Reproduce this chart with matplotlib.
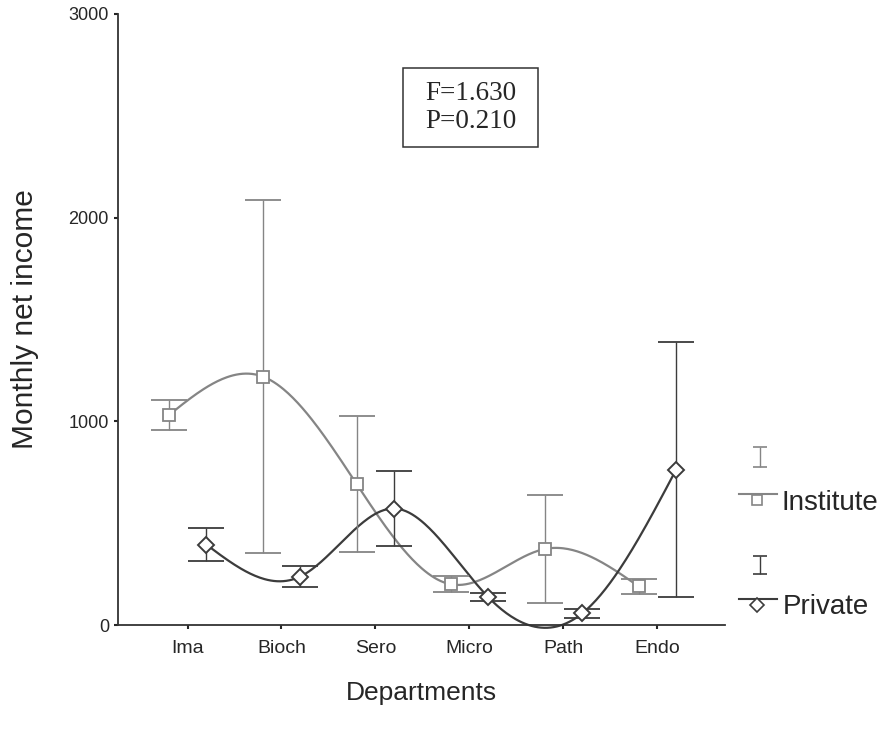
import numpy as np
import matplotlib
matplotlib.use('Agg')
import matplotlib.pyplot as plt
from matplotlib.patches import Rectangle

plt.rcParams['font.family'] = ['Liberation Sans', 'DejaVu Sans']

# ------------------------------------------------------------------
#  data
# ------------------------------------------------------------------
departments = ['Ima', 'Bioch', 'Sero', 'Micro', 'Path', 'Endo']

institute_mean = [1030, 1220, 692, 200, 373, 190]
institute_err  = [75, 866, 334, 40, 265, 38]

private_mean = [395, 238, 572, 137, 57, 763]
private_err  = [80, 52, 184, 20, 23, 626]

F_STAT = 1.630
P_VAL  = 0.210

C_INST = '#858585'
C_PRIV = '#3c3c3c'
C_TEXT = '#262626'


def natural_spline(x, y, n=300):
    """Natural cubic spline through (x, y) - only used to draw the smooth line."""
    x = np.asarray(x, float)
    y = np.asarray(y, float)
    k = len(x)
    h = np.diff(x)
    A = np.zeros((k, k))
    b = np.zeros(k)
    A[0, 0] = A[-1, -1] = 1
    for i in range(1, k - 1):
        A[i, i - 1] = h[i - 1]
        A[i, i] = 2 * (h[i - 1] + h[i])
        A[i, i + 1] = h[i]
        b[i] = 3 * ((y[i + 1] - y[i]) / h[i] - (y[i] - y[i - 1]) / h[i - 1])
    c = np.linalg.solve(A, b)
    bb = (y[1:] - y[:-1]) / h - h * (2 * c[:-1] + c[1:]) / 3
    d = (c[1:] - c[:-1]) / (3 * h)
    xs = np.linspace(x[0], x[-1], n)
    idx = np.clip(np.searchsorted(x, xs) - 1, 0, k - 2)
    dx = xs - x[idx]
    ys = y[idx] + bb[idx] * dx + c[idx] * dx ** 2 + d[idx] * dx ** 3
    return xs, ys


pos = np.arange(len(departments))
x_inst = pos - 0.2
x_priv = pos + 0.2

fig = plt.figure(figsize=(8.84, 7.36), dpi=100)
ax = fig.add_axes([118 / 884, 1 - 625 / 736, (725 - 118) / 884, (625 - 14) / 736])

# smooth lines (allowed to dip just under the axis, as in the original)
xs, ys = natural_spline(x_inst, institute_mean)
ax.plot(xs, ys, color=C_INST, lw=1.6, zorder=2, clip_on=False)
xs, ys = natural_spline(x_priv, private_mean)
ax.plot(xs, ys, color=C_PRIV, lw=1.6, zorder=2, clip_on=False)

# error bars + markers
ax.errorbar(x_inst, institute_mean, yerr=institute_err, fmt='none',
            ecolor=C_INST, elinewidth=1.0, capsize=13, capthick=1.3, zorder=3)
ax.errorbar(x_priv, private_mean, yerr=private_err, fmt='none',
            ecolor=C_PRIV, elinewidth=1.0, capsize=13, capthick=1.3, zorder=3)
ax.plot(x_inst, institute_mean, 's', ms=8, mfc='white', mec=C_INST, mew=1.3, zorder=4)
ax.plot(x_priv, private_mean, 'D', ms=8, mfc='white', mec=C_PRIV, mew=1.4, zorder=4)

ax.set_xlim(-0.74, 5.72)
ax.set_ylim(0, 3000)
ax.set_yticks([0, 1000, 2000, 3000])
ax.set_xticks(pos)
ax.set_xticklabels(departments)
ax.tick_params(axis='both', colors=C_TEXT, length=3, width=1.5)
ax.tick_params(axis='y', labelsize=13)
ax.tick_params(axis='x', labelsize=14, pad=8)
for s in ['top', 'right']:
    ax.spines[s].set_visible(False)
for s in ['left', 'bottom']:
    ax.spines[s].set_color('#333333')
    ax.spines[s].set_linewidth(1.3)

ax.set_ylabel('Monthly net income', fontsize=21.5, color=C_TEXT, labelpad=21)
ax.set_xlabel('Departments', fontsize=19, color=C_TEXT, labelpad=17)

# F / P box
ax.add_patch(Rectangle((0.4695, 0.7823), 0.2224, 0.1293, transform=ax.transAxes,
                       fc='white', ec='#333333', lw=1.1, zorder=5))
ax.text(0.5807, 0.847, f'F={F_STAT:.3f}\nP={P_VAL:.3f}', transform=ax.transAxes,
        ha='center', va='center', fontsize=19.5, family='Liberation Serif',
        color=C_TEXT, linespacing=1.15, zorder=6)

# legend, drawn in its own pixel-coordinate axes
lax = fig.add_axes([730 / 884, 1 - 630 / 736, 154 / 884, 210 / 736])
lax.set_xlim(730, 884)
lax.set_ylim(630, 420)
lax.axis('off')

lax.errorbar([760], [457], yerr=[10], fmt='none', ecolor=C_INST,
             elinewidth=1.0, capsize=5, capthick=1.2)
lax.plot([739, 777], [494, 494], color=C_INST, lw=1.5)
lax.plot([757], [500], 's', ms=7, mfc='white', mec=C_INST, mew=1.2)
lax.text(782, 503, 'Institute', fontsize=20, color=C_TEXT, va='center', ha='left')

lax.errorbar([760], [565], yerr=[9], fmt='none', ecolor=C_PRIV,
             elinewidth=1.0, capsize=5, capthick=1.2)
lax.plot([739, 777], [599, 599], color=C_PRIV, lw=1.5)
lax.plot([757], [605], 'D', ms=7, mfc='white', mec=C_PRIV, mew=1.2)
lax.text(783, 607, 'Private', fontsize=20, color=C_TEXT, va='center', ha='left')

fig.savefig('out.png', dpi=100, facecolor='white')
